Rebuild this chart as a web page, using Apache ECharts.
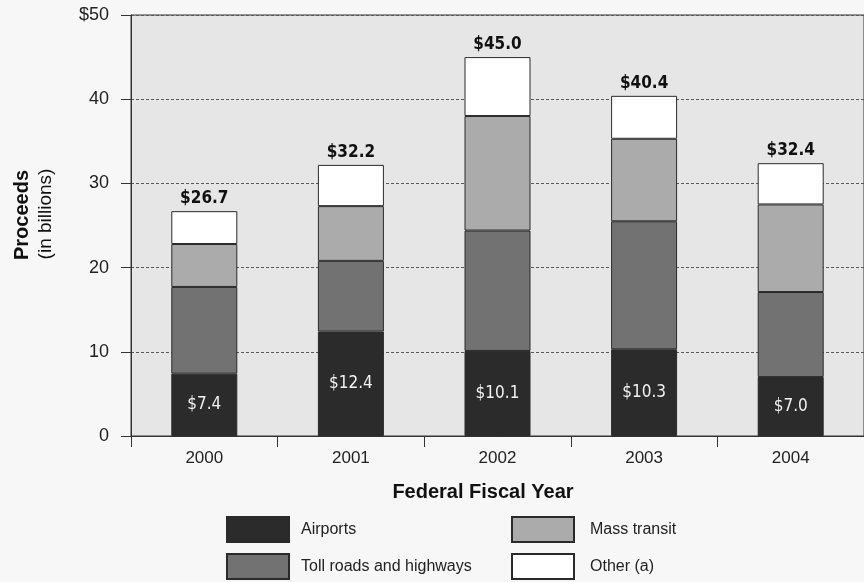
<!DOCTYPE html>
<html>
<head>
<meta charset="utf-8">
<script src="https://cdn.jsdelivr.net/npm/echarts@6/dist/echarts.min.js"></script>
<style>
  html, body { margin: 0; padding: 0; background: #f7f7f7; }
  #chart { width: 864px; height: 582px; }
</style>
</head>
<body>
<div id="chart"></div>
<script>
// Federal fiscal years and proceeds by sector (billions of dollars)
const years = ['2000', '2001', '2002', '2003', '2004'];
const airports = [7.4, 12.4, 10.1, 10.3, 7.0];
const tollRoads = [10.3, 8.4, 14.3, 15.2, 10.1];
const massTransit = [5.1, 6.5, 13.6, 9.8, 10.4];
const other = [3.9, 4.9, 7.0, 5.1, 4.9];
const yTickLabels = ['0', '10', '20', '30', '40', '$50'];

const totals = years.map((_, i) =>
  airports[i] + tollRoads[i] + massTransit[i] + other[i]);

const sans = "'Liberation Sans', Arial, sans-serif";
const narrow = "'Liberation Sans Narrow', 'DejaVu Sans Condensed', 'Liberation Sans', sans-serif";

const chart = echarts.init(document.getElementById('chart'));

const segStyle = (color) => ({ color: color, borderColor: '#2a2a2a', borderWidth: 1 });

// one legend block per entry, laid out as a 2x2 key
const legendEntry = (name, left, top, gap) => ({
  left: left, top: top, padding: 0,
  itemWidth: 62, itemHeight: 25, icon: 'rect',
  textStyle: { color: '#222', fontSize: 16, fontFamily: sans, padding: [0, 0, 0, gap] },
  data: [name]
});

chart.setOption({
  backgroundColor: '#f7f7f7',
  animation: false,
  grid: {
    left: 131, top: 15, width: 737, height: 421,
    show: true, backgroundColor: '#e6e6e6',
    borderColor: '#333', borderWidth: 1
  },
  xAxis: {
    type: 'category',
    data: years,
    axisLine: { lineStyle: { color: '#333', width: 1 } },
    axisTick: { show: true, length: 11, lineStyle: { color: '#333' } },
    axisLabel: { color: '#222', fontSize: 17, fontFamily: sans, margin: 14 }
  },
  yAxis: {
    type: 'value',
    min: 0, max: 50, interval: 10,
    axisLine: { show: true, lineStyle: { color: '#333', width: 1 } },
    axisTick: { show: true, length: 10, lineStyle: { color: '#333' } },
    axisLabel: {
      color: '#222', fontSize: 18, fontFamily: sans, margin: 22,
      formatter: (v) => yTickLabels[Math.round(v / 10)]
    },
    splitLine: { show: true, lineStyle: { color: '#5a5a5a', type: [3, 2], width: 1 } }
  },
  legend: [
    legendEntry('Airports', 226, 516, 7),
    legendEntry('Toll roads and highways', 226, 553, 7),
    legendEntry('Mass transit', 511, 516, 11),
    legendEntry('Other (a)', 511, 553, 11)
  ],
  graphic: [
    {
      type: 'text', x: 483, y: 492,
      style: {
        text: 'Federal Fiscal Year', fill: '#111',
        font: 'bold 20px ' + sans, align: 'center', verticalAlign: 'middle'
      }
    },
    {
      type: 'text', x: 22, y: 215, rotation: Math.PI / 2,
      style: {
        text: 'Proceeds', fill: '#111',
        font: 'bold 20px ' + sans, align: 'center', verticalAlign: 'middle'
      }
    },
    {
      type: 'text', x: 46, y: 214, rotation: Math.PI / 2,
      style: {
        text: '(in billions)', fill: '#111',
        font: '19px ' + sans, align: 'center', verticalAlign: 'middle'
      }
    }
  ],
  series: [
    {
      name: 'Airports', type: 'bar', stack: 'total', barWidth: 66,
      data: airports,
      itemStyle: segStyle('#2b2b2b'),
      label: {
        show: true, position: 'inside', color: '#f2f2f2',
        fontSize: 17, fontFamily: narrow,
        formatter: (p) => '$' + p.value.toFixed(1)
      }
    },
    {
      name: 'Toll roads and highways', type: 'bar', stack: 'total', barWidth: 66,
      data: tollRoads,
      itemStyle: segStyle('#727272')
    },
    {
      name: 'Mass transit', type: 'bar', stack: 'total', barWidth: 66,
      data: massTransit,
      itemStyle: segStyle('#ababab')
    },
    {
      name: 'Other (a)', type: 'bar', stack: 'total', barWidth: 66,
      data: other,
      itemStyle: segStyle('#ffffff'),
      label: {
        show: true, position: 'top', distance: 4, color: '#111',
        fontSize: 17, fontWeight: 'bold', fontFamily: narrow,
        formatter: (p) => '$' + totals[p.dataIndex].toFixed(1)
      }
    }
  ]
});
</script>
</body>
</html>
